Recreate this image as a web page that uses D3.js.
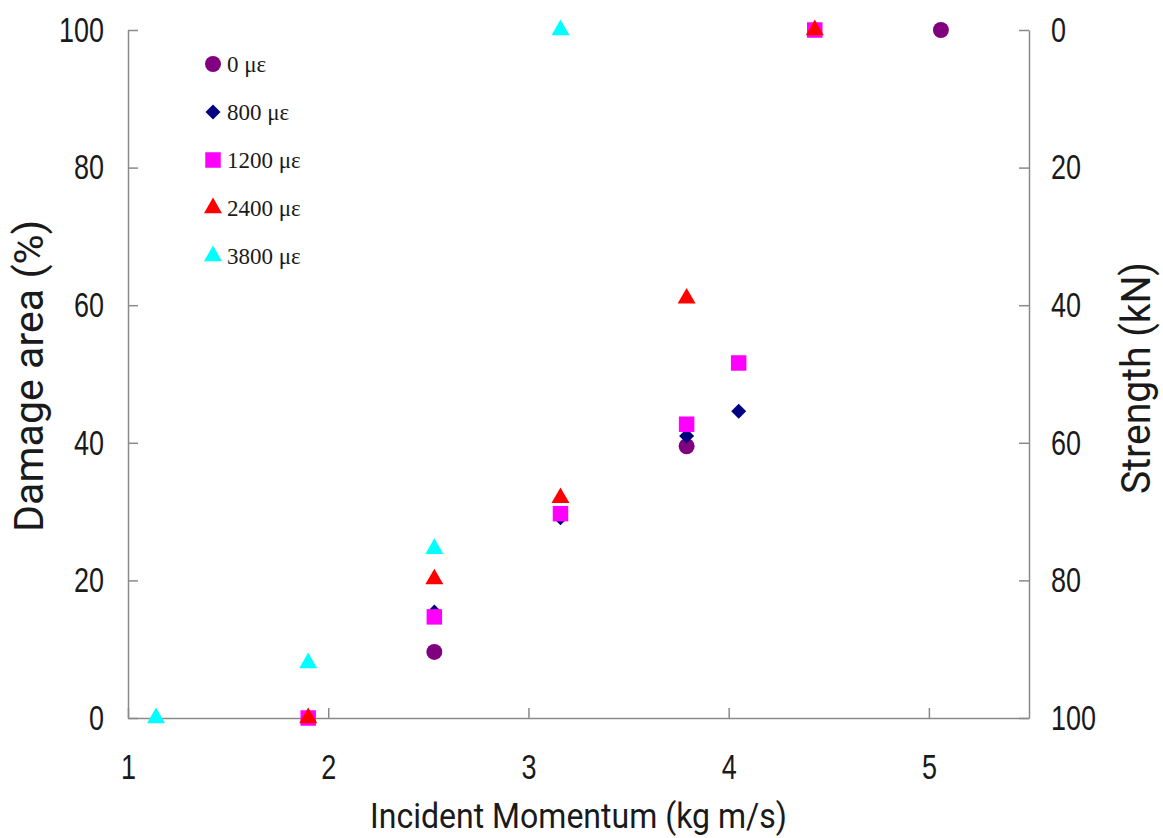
<!DOCTYPE html>
<html>
<head>
<meta charset="utf-8">
<script src="https://cdn.jsdelivr.net/npm/d3@7"></script>
<style>
  body { margin: 0; background: #fff; }
  svg { display: block; }
</style>
</head>
<body>
<div id="chart"></div>
<script>
// strain series shown in the legend
var seriesNames = ["0 \u03bc\u03b5", "800 \u03bc\u03b5", "1200 \u03bc\u03b5", "2400 \u03bc\u03b5", "3800 \u03bc\u03b5"];

// incident momentum (kg m/s) and damage area (%)
var momentum0 = [2.53, 3.79, 5.06];
var damage0 = [9.6, 39.5, 100];

var momentum800 = [1.9, 2.53, 3.16, 3.79, 4.05, 4.43];
var damage800 = [0, 15.4, 29.1, 41.0, 44.6, 100];

var momentum1200 = [1.9, 2.53, 3.16, 3.79, 4.05, 4.43];
var damage1200 = [0, 14.7, 29.7, 42.7, 51.6, 100];

var momentum2400 = [1.9, 2.53, 3.16, 3.79, 4.43];
var damage2400 = [0, 20.2, 32.0, 61.0, 100];

var momentum3800 = [1.14, 1.9, 2.53, 3.16];
var damage3800 = [0, 8.0, 24.6, 100];

var xTicks = [1, 2, 3, 4, 5];
var yTicks = [0, 20, 40, 60, 80, 100];
var strengthTicks = [0, 20, 40, 60, 80, 100];

var width = 1163, height = 838;
var plotLeft = 128, plotRight = 1029, plotTop = 30, plotBottom = 718;

var svg = d3.select("#chart").append("svg")
  .attr("width", width)
  .attr("height", height);

var x = d3.scaleLinear().domain([1, 5.5]).range([plotLeft, plotRight]);
var y = d3.scaleLinear().domain([0, 100]).range([plotBottom, plotTop]);
var yStrength = d3.scaleLinear().domain([0, 100]).range([plotTop, plotBottom]);

var axisColor = "#8a8a8a";

function styleAxis(g) {
  g.select(".domain").attr("stroke", axisColor).attr("stroke-width", 1.5);
  g.selectAll(".tick line").attr("stroke", axisColor).attr("stroke-width", 1.5);
  g.selectAll(".tick text")
    .attr("fill", "#1a1a1a")
    .style("font-family", "'Liberation Sans', Arial, sans-serif")
    .style("font-size", "27px")
    .attr("transform", "scale(1,1.3)");
}

// bottom axis, ticks pointing in
svg.append("g")
  .attr("transform", "translate(0," + plotBottom + ")")
  .call(d3.axisBottom(x).tickValues(xTicks).tickFormat(d3.format("d"))
    .tickSizeInner(-10).tickSizeOuter(0).tickPadding(28))
  .call(styleAxis);

// left axis
svg.append("g")
  .attr("transform", "translate(" + plotLeft + ",0)")
  .call(d3.axisLeft(y).tickValues(yTicks)
    .tickSizeInner(-10).tickSizeOuter(0).tickPadding(24))
  .call(styleAxis);

// right axis (strength, reversed)
svg.append("g")
  .attr("transform", "translate(" + plotRight + ",0)")
  .call(d3.axisRight(yStrength).tickValues(strengthTicks)
    .tickSizeInner(-10).tickSizeOuter(0).tickPadding(22))
  .call(styleAxis);

// axis titles
var titleFont = "Roboto, 'Liberation Sans', sans-serif";

svg.append("text")
  .attr("x", 370).attr("y", 828)
  .attr("textLength", 417).attr("lengthAdjust", "spacingAndGlyphs")
  .style("font-family", titleFont).style("font-size", "35px")
  .attr("fill", "#1a1a1a")
  .text("Incident Momentum (kg m/s)");

svg.append("text")
  .attr("transform", "translate(43,376) rotate(-90)")
  .attr("text-anchor", "middle")
  .attr("textLength", 312).attr("lengthAdjust", "spacingAndGlyphs")
  .style("font-family", titleFont).style("font-size", "41px")
  .attr("fill", "#1a1a1a")
  .text("Damage area (%)");

svg.append("text")
  .attr("transform", "translate(1150,378) rotate(-90)")
  .attr("text-anchor", "middle")
  .attr("textLength", 232).attr("lengthAdjust", "spacingAndGlyphs")
  .style("font-family", titleFont).style("font-size", "41px")
  .attr("fill", "#1a1a1a")
  .text("Strength (kN)");

// markers
var series = [
  { name: seriesNames[0], xs: momentum0, ys: damage0, color: "#800080", shape: d3.symbolCircle, size: 200, rot: 0 },
  { name: seriesNames[1], xs: momentum800, ys: damage800, color: "#000080", shape: d3.symbolSquare, size: 112, rot: 45 },
  { name: seriesNames[2], xs: momentum1200, ys: damage1200, color: "#ff00ff", shape: d3.symbolSquare, size: 240, rot: 0 },
  { name: seriesNames[3], xs: momentum2400, ys: damage2400, color: "#ff0000", shape: d3.symbolTriangle, size: 140, rot: 0 },
  { name: seriesNames[4], xs: momentum3800, ys: damage3800, color: "#00ffff", shape: d3.symbolTriangle, size: 140, rot: 0 }
];

series.forEach(function(s) {
  var pts = s.xs.map(function(v, i) { return [v, s.ys[i]]; });
  svg.append("g").selectAll("path")
    .data(pts)
    .enter().append("path")
    .attr("d", d3.symbol().type(s.shape).size(s.size))
    .attr("transform", function(d) {
      return "translate(" + x(d[0]) + "," + y(d[1]) + ") rotate(" + s.rot + ")";
    })
    .attr("fill", s.color);
});

// legend
var legend = svg.append("g").attr("transform", "translate(213,64)");
var rows = legend.selectAll("g")
  .data(series)
  .enter().append("g")
  .attr("transform", function(d, i) { return "translate(0," + i * 48 + ")"; });

rows.append("path")
  .attr("d", function(d) { return d3.symbol().type(d.shape).size(d.size)(); })
  .attr("transform", function(d) { return "rotate(" + d.rot + ")"; })
  .attr("fill", function(d) { return d.color; });

rows.append("text")
  .attr("x", 14).attr("dy", "0.35em")
  .style("font-family", "'Liberation Serif', 'Times New Roman', serif")
  .style("font-size", "23px")
  .attr("fill", "#1a1a1a")
  .text(function(d) { return d.name; });
</script>
</body>
</html>
